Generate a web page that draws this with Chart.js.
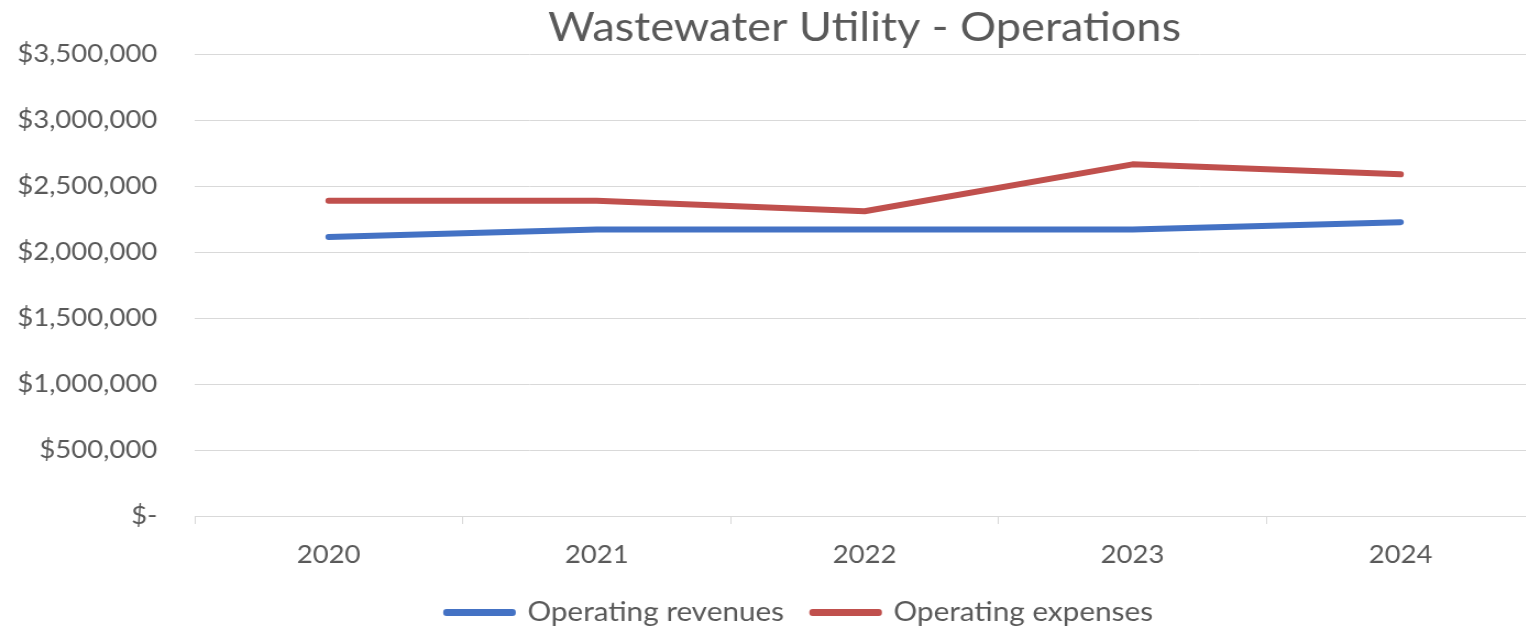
<!DOCTYPE html>
<html>
<head>
<meta charset="utf-8">
<script src="https://cdn.jsdelivr.net/npm/chart.js@4.4.1/dist/chart.umd.min.js"></script>
<style>
  html, body { margin: 0; padding: 0; background: #fff; overflow: hidden; width: 1526px; height: 633px; }
  /* the source picture is stretched sideways a little, so the chart is too */
  #wrap { position: absolute; left: 0; top: 0; width: 1454px; height: 636px;
          transform: scaleX(1.1); transform-origin: 0 0; }
</style>
</head>
<body>
<div id="wrap"><canvas id="ops_chart"></canvas></div>
<script>
var years = ['2020', '2021', '2022', '2023', '2024'];
var revenues = [2115000, 2172000, 2172000, 2172000, 2227000];
var expenses = [2390000, 2390000, 2310000, 2665000, 2590000];
var yMax = 3500000;
var yStep = 500000;

function money(v) {
    if (v === 0) return '$-';
    return '$' + v.toLocaleString('en-US');
}

var font = 'Lato, "Open Sans", sans-serif';
var grey = '#595959';

new Chart(document.getElementById('ops_chart').getContext('2d'), {
    type: 'line',
    data: {
        labels: years,
        datasets: [{
            label: 'Operating revenues',
            data: revenues,
            borderColor: '#4472C4',
            backgroundColor: '#4472C4',
            borderWidth: 6,
            pointRadius: 0,
            borderCapStyle: 'round',
            borderJoinStyle: 'round'
        }, {
            label: 'Operating expenses',
            data: expenses,
            borderColor: '#C0504D',
            backgroundColor: '#C0504D',
            borderWidth: 6,
            pointRadius: 0,
            borderCapStyle: 'round',
            borderJoinStyle: 'round'
        }]
    },
    options: {
        responsive: true,
        maintainAspectRatio: false,
        animation: false,
        layout: { padding: 0 },
        plugins: {
            title: {
                display: true,
                fullSize: false,
                text: 'Wastewater Utility - Operations',
                color: grey,
                font: { family: font, size: 41, weight: 'normal', lineHeight: 1.2 },
                padding: { top: 3, bottom: 2 }
            },
            legend: {
                position: 'bottom',
                labels: {
                    color: grey,
                    font: { family: font, size: 27 },
                    boxWidth: 60,
                    boxHeight: 1,
                    padding: 26
                }
            },
            tooltip: { enabled: false }
        },
        scales: {
            x: {
                offset: true,
                grid: {
                    offset: true,
                    drawOnChartArea: false,
                    drawTicks: true,
                    tickLength: 8,
                    color: '#d9d9d9'
                },
                border: { display: true, color: '#d9d9d9', width: 1 },
                ticks: {
                    color: grey,
                    font: { family: font, size: 25 },
                    padding: 16
                },
                afterFit: function (scale) { scale.height = 57; }
            },
            y: {
                min: 0,
                max: yMax,
                grid: { color: '#d9d9d9', drawTicks: false },
                border: { display: false },
                ticks: {
                    stepSize: yStep,
                    color: grey,
                    font: { family: font, size: 25 },
                    padding: 34,
                    callback: function (v) { return money(v); }
                },
                afterFit: function (scale) { scale.width = 177; }
            },
            // empty right-hand axis: keeps the plot narrower while the legend stays centred on the full width
            yPad: {
                position: 'right',
                grid: { display: false, drawTicks: false },
                border: { display: false },
                ticks: { display: false },
                afterFit: function (scale) { scale.width = 59; }
            }
        }
    }
});
</script>
</body>
</html>
